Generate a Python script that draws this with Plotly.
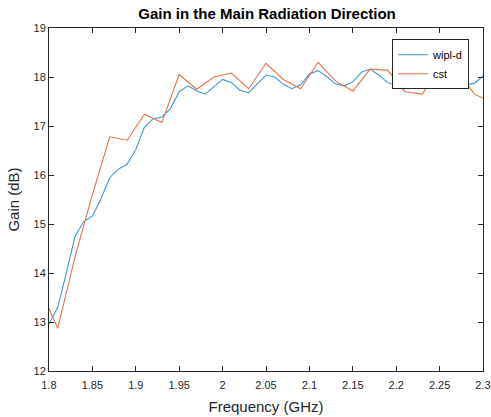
import plotly.graph_objects as go

# wipl-d: 0.01 GHz steps
wipl_freq = [1.80, 1.81, 1.82, 1.83, 1.84, 1.85, 1.86, 1.87, 1.88, 1.89,
             1.90, 1.91, 1.92, 1.93, 1.94, 1.95, 1.96, 1.97, 1.98, 1.99,
             2.00, 2.01, 2.02, 2.03, 2.04, 2.05, 2.06, 2.07, 2.08, 2.09,
             2.10, 2.11, 2.12, 2.13, 2.14, 2.15, 2.16, 2.17, 2.18, 2.19,
             2.20, 2.21, 2.22, 2.23, 2.24, 2.25, 2.26, 2.27, 2.28, 2.29, 2.30]
wipl_gain = [12.96, 13.30, 14.00, 14.75, 15.05, 15.16, 15.52, 15.95, 16.12, 16.22,
             16.52, 16.98, 17.15, 17.18, 17.36, 17.70, 17.82, 17.72, 17.65, 17.80,
             17.95, 17.89, 17.73, 17.68, 17.85, 18.04, 18.00, 17.85, 17.76, 17.84,
             18.06, 18.13, 18.01, 17.86, 17.82, 17.90, 18.10, 18.16, 18.04, 17.89,
             17.82, 17.82, 17.98, 18.05, 18.05, 18.00, 17.95, 17.87, 17.84, 17.87, 18.02]

# cst
cst_freq = [1.80, 1.81, 1.83, 1.85, 1.87, 1.89, 1.91, 1.93, 1.95, 1.97,
            1.99, 2.01, 2.03, 2.05, 2.07, 2.09, 2.11, 2.13, 2.15, 2.17,
            2.19, 2.21, 2.23, 2.25, 2.27, 2.29, 2.30]
cst_gain = [13.28, 12.87, 14.33, 15.60, 16.78, 16.71, 17.24, 17.07, 18.05, 17.75,
            18.00, 18.08, 17.76, 18.28, 17.95, 17.76, 18.30, 17.92, 17.71, 18.16,
            18.14, 17.70, 17.65, 18.20, 18.15, 17.65, 17.57]

x_ticks = [1.8, 1.85, 1.9, 1.95, 2.0, 2.05, 2.1, 2.15, 2.2, 2.25, 2.3]
x_tick_text = ["1.8", "1.85", "1.9", "1.95", "2", "2.05", "2.1", "2.15", "2.2", "2.25", "2.3"]
y_ticks = [12, 13, 14, 15, 16, 17, 18, 19]

FONT = "Liberation Sans, Arial, Helvetica, sans-serif"
AX = "#262626"

fig = go.Figure()
fig.add_trace(go.Scatter(x=wipl_freq, y=wipl_gain, mode="lines", name="wipl-d",
                         line=dict(color="#3f97d6", width=1.1)))
fig.add_trace(go.Scatter(x=cst_freq, y=cst_gain, mode="lines", name="cst",
                         line=dict(color="#e67347", width=1.1)))

axis_common = dict(showgrid=False, zeroline=False, showline=True, linecolor=AX,
                   linewidth=1, mirror="ticks", ticks="inside", ticklen=5,
                   tickcolor=AX, tickfont=dict(family=FONT, size=11, color=AX),
                   automargin=False)

fig.update_layout(
    width=491, height=417,
    margin=dict(l=49, r=8, t=28, b=46),
    paper_bgcolor="white", plot_bgcolor="white",
    title=dict(text="<b>Gain in the Main Radiation Direction</b>",
               x=0.5438, xanchor="center", y=0.966, yanchor="middle",
               font=dict(family=FONT, size=15, color="black")),
    xaxis=dict(range=[1.8, 2.3], tickvals=x_ticks, ticktext=x_tick_text,
               ticklabelstandoff=4,
               title=dict(text="Frequency (GHz)", standoff=11,
                          font=dict(family=FONT, size=15, color=AX)),
               **axis_common),
    yaxis=dict(range=[12, 19], tickvals=y_ticks,
               title=dict(text="Gain (dB)", standoff=10,
                          font=dict(family=FONT, size=15, color=AX)),
               **axis_common),
    legend=dict(x=0.968, xanchor="right", y=0.967, yanchor="top",
                bgcolor="white", bordercolor=AX, borderwidth=1,
                font=dict(family=FONT, size=11, color="black"),
                itemwidth=30, tracegroupgap=0),
    showlegend=True,
)

fig.write_html("out.html", config={"displayModeBar": False},
               post_script="document.body.style.margin='0';")
